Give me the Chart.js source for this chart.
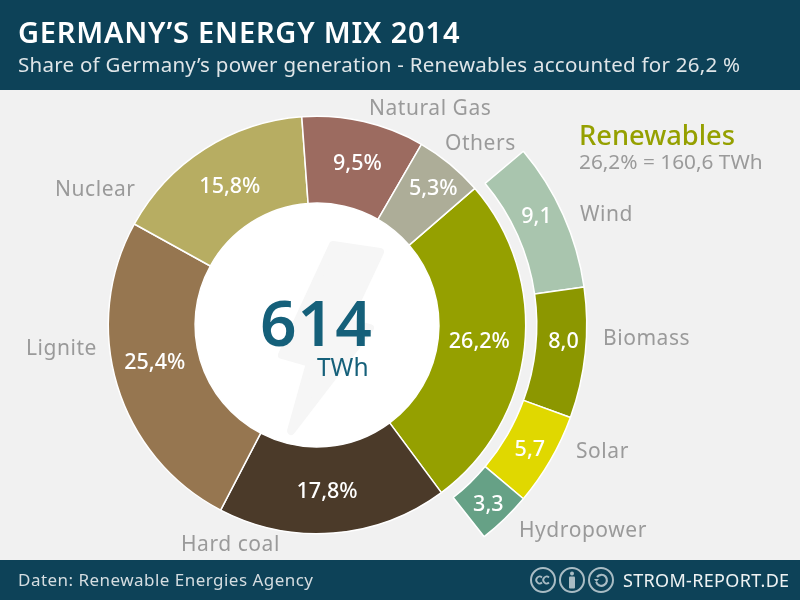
<!DOCTYPE html>
<html><head><meta charset="utf-8">
<script src="https://cdn.jsdelivr.net/npm/chart.js@4"></script>
<style>
html,body{margin:0;padding:0;background:#f1f1f1;width:800px;height:600px;overflow:hidden}
body{font-family:"Noto Sans",sans-serif;position:relative}
.band{position:absolute;left:0;width:800px;background:#0d4258}
#head{top:0;height:90px}#foot{top:560px;height:40px}
.t{position:absolute;white-space:nowrap}
#title{left:18px;top:13px;font-size:29px;font-weight:600;color:#fff;line-height:38px;letter-spacing:.8px}
#sub{left:18px;top:49px;font-size:20.5px;color:#dfe5e8;line-height:30px;letter-spacing:.26px}
#src{left:18px;top:569px;font-size:17px;color:#d5dde1;line-height:22px;letter-spacing:.47px}
#site{left:623px;top:568px;font-size:18px;color:#eef2f3;line-height:25px;letter-spacing:.33px}
#c{position:absolute;left:0;top:0}
#icons{position:absolute;left:528px;top:565px}
</style></head><body>
<div class="band" id="head"></div><div class="band" id="foot"></div>
<canvas id="c" width="800" height="600"></canvas>
<div class="t" id="title">GERMANY’S ENERGY MIX 2014</div>
<div class="t" id="sub">Share of Germany’s power generation - Renewables accounted for 26,2 %</div>
<div class="t" id="src">Daten: Renewable Energies Agency</div>
<div class="t" id="site">STROM-REPORT.DE</div>
<svg id="icons" width="88" height="30" viewBox="0 0 88 30" fill="none" stroke="#a9bcc4" stroke-width="2">
<circle cx="15" cy="15" r="12"/><circle cx="44" cy="15" r="12"/><circle cx="73" cy="15" r="12"/>
<path d="M14 12.5a3.4 3.4 0 1 0 0 5M21 12.5a3.4 3.4 0 1 0 0 5" stroke-width="1.8"/>
<circle cx="44" cy="8.5" r="2" fill="#a9bcc4" stroke="none"/><rect x="41" y="11.5" width="6" height="12" rx="1" fill="#a9bcc4" stroke="none"/>
<path d="M69 12a5.5 5.5 0 1 1 -.8 5" stroke-width="2.2"/><path d="M66 14h5l-2.5 3z" fill="#a9bcc4" stroke="none"/>
</svg>
<script>
const mainLabels=["Renewables","Hard coal","Lignite","Nuclear","Natural Gas","Others"];
const mainValues=[26.2,17.8,25.4,15.8,9.5,5.3];
const mainText=["26,2%","17,8%","25,4%","15,8%","9,5%","5,3%"];
const mainColors=["#95a000","#4b3a29","#967650","#b7ad62","#9c6b60","#adad98"];
const renewLabels=["Wind","Biomass","Solar","Hydropower"];
const renewValues=[9.1,8.0,5.7,3.3];
const renewText=["9,1","8,0","5,7","3,3"];
const renewColors=["#a9c5ae","#8c9700","#e0d800","#66a186"];

const mainNudge=[[-2,-1],[-3,2.5],[-4,-9.5],[2,1.5],[3.5,0.5],[11,-9]];
const renewNudge=[[-4,-8],[3,-9],[1,2],[1,4]];
const names=[["Natural Gas",369,109.5],["Others",445,144.5],["Nuclear",55,190.5],["Lignite",26,349.5],["Hard coal",181,545.5],["Wind",580,215.5],["Biomass",603,339.5],["Solar",576,452.5],["Hydropower",519,531.5]];
const FONT='"Noto Sans",sans-serif';
const GREY='#9a9a9a';

const bolt=[[333,245],[380,252],[347,322],[370,328],[291,431],[310,363],[282,355]];
const decor={id:'decor',
 beforeDatasetsDraw(ch){
  const ctx=ch.ctx,m=ch.getDatasetMeta(2).data[0];
  ctx.save();
  ctx.fillStyle='#fff';ctx.beginPath();ctx.arc(m.x,m.y,ch.getDatasetMeta(2).controller.innerRadius,0,Math.PI*2);ctx.fill();
  ctx.fillStyle=ctx.strokeStyle='#f6f6f6';ctx.lineWidth=8;ctx.lineJoin='round';
  ctx.beginPath();bolt.forEach((p,i)=>i?ctx.lineTo(p[0],p[1]):ctx.moveTo(p[0],p[1]));ctx.closePath();ctx.fill();ctx.stroke();
  ctx.restore();
 },
 afterDatasetsDraw(ch){
  const ctx=ch.ctx;ctx.save();
  ctx.textBaseline='middle';ctx.textAlign='center';ctx.fillStyle='#fff';ctx.font='500 21.5px '+FONT;
  const put=(idx,txt,nud)=>ch.getDatasetMeta(idx).data.forEach((a,i)=>{const p=a.getCenterPoint();ctx.fillText(txt[i],p.x+nud[i][0],p.y+nud[i][1]);});
  put(0,renewText,renewNudge);put(2,mainText,mainNudge);
  ctx.textAlign='left';ctx.fillStyle=GREY;ctx.font='21px '+FONT;ctx.letterSpacing='0.55px';
  names.forEach(n=>ctx.fillText(n[0],n[1],n[2]));
  ctx.letterSpacing='0px';
  ctx.fillStyle='#95a000';ctx.font='500 27.3px '+FONT;ctx.fillText('Renewables',579,137);
  ctx.fillStyle=GREY;ctx.font='20.8px '+FONT;ctx.fillText('26,2% = 160,6 TWh',579,163.5);
  ctx.fillStyle='#15607a';ctx.font='600 64px '+FONT;ctx.letterSpacing='1px';ctx.fillText('614',260,328);
  ctx.letterSpacing='0px';ctx.font='24.5px '+FONT;ctx.fillText('TWh',317,369);
  ctx.restore();
 }};
new Chart(document.getElementById('c'),{type:'doughnut',
 data:{labels:mainLabels,datasets:[
  {data:renewValues,backgroundColor:renewColors,weight:49.5,rotation:49.9,circumference:91.8},
  {data:[],weight:11},
  {data:mainValues,backgroundColor:mainColors,weight:86,rotation:49.1,circumference:360}
 ]},
 options:{responsive:false,animation:false,devicePixelRatio:1,cutout:'45.2%',
  elements:{arc:{borderWidth:1.5,borderColor:'#fff'}},
  layout:{padding:{left:46.5,right:212.5,top:54.5,bottom:4.5}},
  plugins:{legend:{display:false},tooltip:{enabled:false},title:{display:false}},
 },plugins:[decor]});
</script></body></html>
